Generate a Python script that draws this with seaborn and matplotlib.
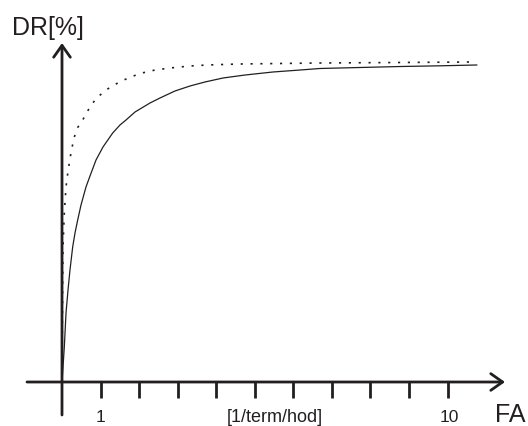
import matplotlib
matplotlib.use("Agg")
import matplotlib.pyplot as plt
import seaborn as sns
import pandas as pd

# ---- data ----
solid_x = [0, 0.026, 0.060, 0.104, 0.156, 0.207, 0.277, 0.337, 0.407, 0.493,
           0.622, 0.726, 0.882, 1.063, 1.315, 1.504, 1.660, 1.893, 2.282,
           2.541, 2.930, 3.320, 3.708, 4.175, 4.746, 5.472, 6.172, 6.691,
           7.728, 8.766, 9.803, 10.762]
solid_y = [0, 4.41, 10.29, 20.29, 27.06, 32.94, 39.71, 43.82, 47.65, 52.06,
           57.35, 60.59, 65.29, 69.12, 73.24, 75.59, 77.06, 79.41, 82.06,
           83.53, 85.59, 87.06, 88.24, 89.41, 90.29, 91.18, 91.76, 92.21,
           92.50, 92.79, 93.00, 93.24]
dot_x = [0, 0.008, 0.018, 0.026, 0.060, 0.104, 0.143, 0.189, 0.246, 0.319,
         0.415, 0.537, 0.648, 0.796, 0.960, 1.141, 1.349, 1.574, 1.789,
         2.023, 2.412, 2.801, 3.320, 3.760, 4.616, 5.654, 6.691, 8.766,
         10.633]
dot_y = [0, 15.29, 30.00, 39.71, 49.71, 57.35, 60.88, 64.41, 68.24, 72.06,
         75.00, 77.06, 79.41, 82.06, 84.12, 85.88, 87.35, 88.68, 89.71,
         90.74, 91.76, 92.35, 92.94, 93.24, 93.53, 93.68, 93.82, 93.97,
         94.12]
tick_positions = [1, 2, 3, 4, 5, 6, 7, 8, 9, 10]
tick_labels = {1: "1", 10: "10"}
x_label = "[1/term/hod]"
x_name = "FA"
y_name = "DR[%]"

sns.set_style("white")
plt.rcParams["font.family"] = ["Liberation Sans", "DejaVu Sans"]

ink = "#231f20"
fig = plt.figure(figsize=(5.28, 4.26), dpi=100)
ax = fig.add_axes([0, 0, 1, 1])
ax.set_axis_off()

df_s = pd.DataFrame({"x": solid_x, "y": solid_y})
df_d = pd.DataFrame({"x": dot_x, "y": dot_y})
sns.lineplot(data=df_s, x="x", y="y", ax=ax, sort=False, estimator=None,
             color=ink, lw=0.9)
sns.lineplot(data=df_d, x="x", y="y", ax=ax, sort=False, estimator=None,
             color=ink, lw=1.2)
ax.lines[-1].set_dashes([1.3, 4.6])

# pixel mapping: x px = 62 + 38.56*x ; y px = 382 - 3.4*y
ax.set_xlim(-62 / 38.56, (528 - 62) / 38.56)
ax.set_ylim((382 - 426) / 3.4, 382 / 3.4)

arrow = dict(arrowstyle="->,head_length=0.85,head_width=0.6", lw=2.0,
             color=ink, shrinkA=0, shrinkB=0)
ax.annotate("", xy=((505 - 62) / 38.56, 0), xytext=((27 - 62) / 38.56, 0),
            arrowprops=arrow)
ax.annotate("", xy=(0, (382 - 43) / 3.4), xytext=(0, (382 - 415) / 3.4),
            arrowprops=arrow)

ax.vlines(tick_positions, -16 / 3.4, 0, color=ink, lw=2.0)

ax.text(1, (382 - 422.5) / 3.4, tick_labels[1], fontsize=12.5, ha="center",
        va="baseline", color=ink)
ax.text((449 - 62) / 38.56, (382 - 422) / 3.4, tick_labels[10], fontsize=12.5,
        ha="center", va="baseline", color=ink)
ax.text((274.5 - 62) / 38.56, (382 - 422) / 3.4, x_label, fontsize=13,
        ha="center", va="baseline", color=ink)
ax.text((495 - 62) / 38.56, (382 - 422) / 3.4, x_name, fontsize=18,
        ha="left", va="baseline", color=ink)
ax.text((12 - 62) / 38.56, (382 - 35) / 3.4, y_name, fontsize=18,
        ha="left", va="baseline", color=ink)

fig.savefig("out.png", dpi=100)
